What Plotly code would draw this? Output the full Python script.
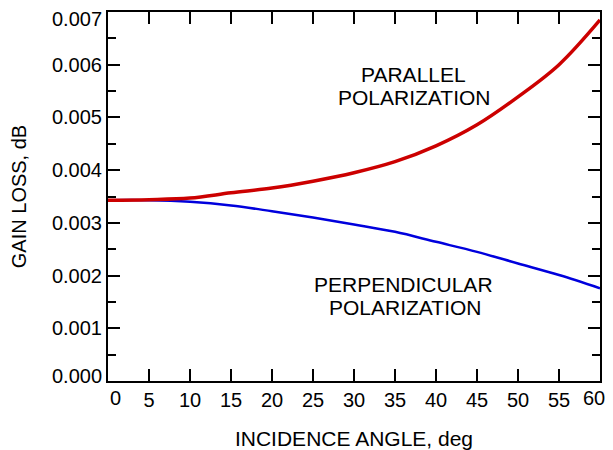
import plotly.graph_objects as go

# Data
angle_deg = [0, 5, 10, 15, 20, 25, 30, 35, 40, 45, 50, 55, 60]
loss_parallel = [0.00343, 0.00344, 0.00347, 0.00357, 0.00366, 0.00379, 0.00395,
                 0.00416, 0.00446, 0.00486, 0.00539, 0.00600, 0.00685]
loss_perpendicular = [0.00343, 0.00343, 0.00340, 0.00333, 0.00322, 0.00310, 0.00297,
                      0.00283, 0.00264, 0.00245, 0.00223, 0.00201, 0.00176]

x_tickvals = [0, 5, 10, 15, 20, 25, 30, 35, 40, 45, 50, 55, 60]
y_tickvals = [0.000, 0.001, 0.002, 0.003, 0.004, 0.005, 0.006, 0.007]

FONT = "Liberation Sans, Arial, sans-serif"
TICK_FONT = dict(family=FONT, size=20, color="black")

# edge tick labels are nudged inward (as in the reference); drawn as annotations
x_ticktext = ["" if v in (x_tickvals[0], x_tickvals[-1]) else str(v) for v in x_tickvals]
y_ticktext = ["" if v in (y_tickvals[0], y_tickvals[-1]) else f"{v:.3f}" for v in y_tickvals]

fig = go.Figure()
fig.add_trace(go.Scatter(x=angle_deg, y=loss_perpendicular, mode="lines",
                         line=dict(color="#0000DD", width=2.5, shape="spline"),
                         showlegend=False))
fig.add_trace(go.Scatter(x=angle_deg, y=loss_parallel, mode="lines",
                         line=dict(color="#CC0000", width=3.5, shape="spline"),
                         showlegend=False))

ann_font = dict(family=FONT, size=21, color="black")
for txt, x, y in [("PARALLEL", 37.2, 0.005806), ("POLARIZATION", 37.3, 0.00538),
                  ("PERPENDICULAR", 36.0, 0.001822), ("POLARIZATION", 36.2, 0.00140)]:
    fig.add_annotation(text=txt, x=x, y=y, xref="x", yref="y", showarrow=False,
                       xanchor="center", yanchor="middle", font=ann_font)

# x edge labels
for v, dx in [(x_tickvals[0], 7), (x_tickvals[-1], -6)]:
    fig.add_annotation(text=str(v), x=v, y=0, xref="x", yref="paper", showarrow=False,
                       xanchor="center", yanchor="middle", xshift=dx, yshift=-17,
                       font=TICK_FONT)
# y edge labels
for v, dy in [(y_tickvals[0], 5), (y_tickvals[-1], -7)]:
    fig.add_annotation(text=f"{v:.3f}", x=0, y=v, xref="paper", yref="y", showarrow=False,
                       xanchor="right", yanchor="middle", xshift=-4, yshift=dy,
                       font=TICK_FONT)

# page body adds an 8px offset; the figure is sized to fit inside the window
fig.update_layout(
    width=605, height=442,
    margin=dict(l=100, r=13, t=4, b=69, autoexpand=False),
    paper_bgcolor="white", plot_bgcolor="white",
    font=dict(family=FONT, size=20, color="black"),
)
fig.update_xaxes(
    range=[0, 60], tickvals=x_tickvals, ticktext=x_ticktext,
    showgrid=False, zeroline=False, automargin=False,
    showline=True, linecolor="black", linewidth=2, mirror="ticks",
    ticks="inside", ticklen=12, tickwidth=2, tickcolor="black",
    tickfont=TICK_FONT,
    title=dict(text="INCIDENCE ANGLE, deg", font=dict(family=FONT, size=21, color="black"),
               standoff=22),
)
fig.update_yaxes(
    range=[0, 0.007], tickvals=y_tickvals, ticktext=y_ticktext,
    showgrid=False, zeroline=False, automargin=False,
    showline=True, linecolor="black", linewidth=2, mirror="ticks",
    ticks="inside", ticklen=12, tickwidth=2, tickcolor="black",
    minor=dict(ticks="inside", ticklen=8, tickwidth=2, tickcolor="black",
               dtick=0.0005, tick0=0, showgrid=False),
    tickfont=TICK_FONT,
    title=dict(text="GAIN LOSS, dB", font=dict(family=FONT, size=20, color="black"),
               standoff=28),
)

fig.write_html("out.html")
